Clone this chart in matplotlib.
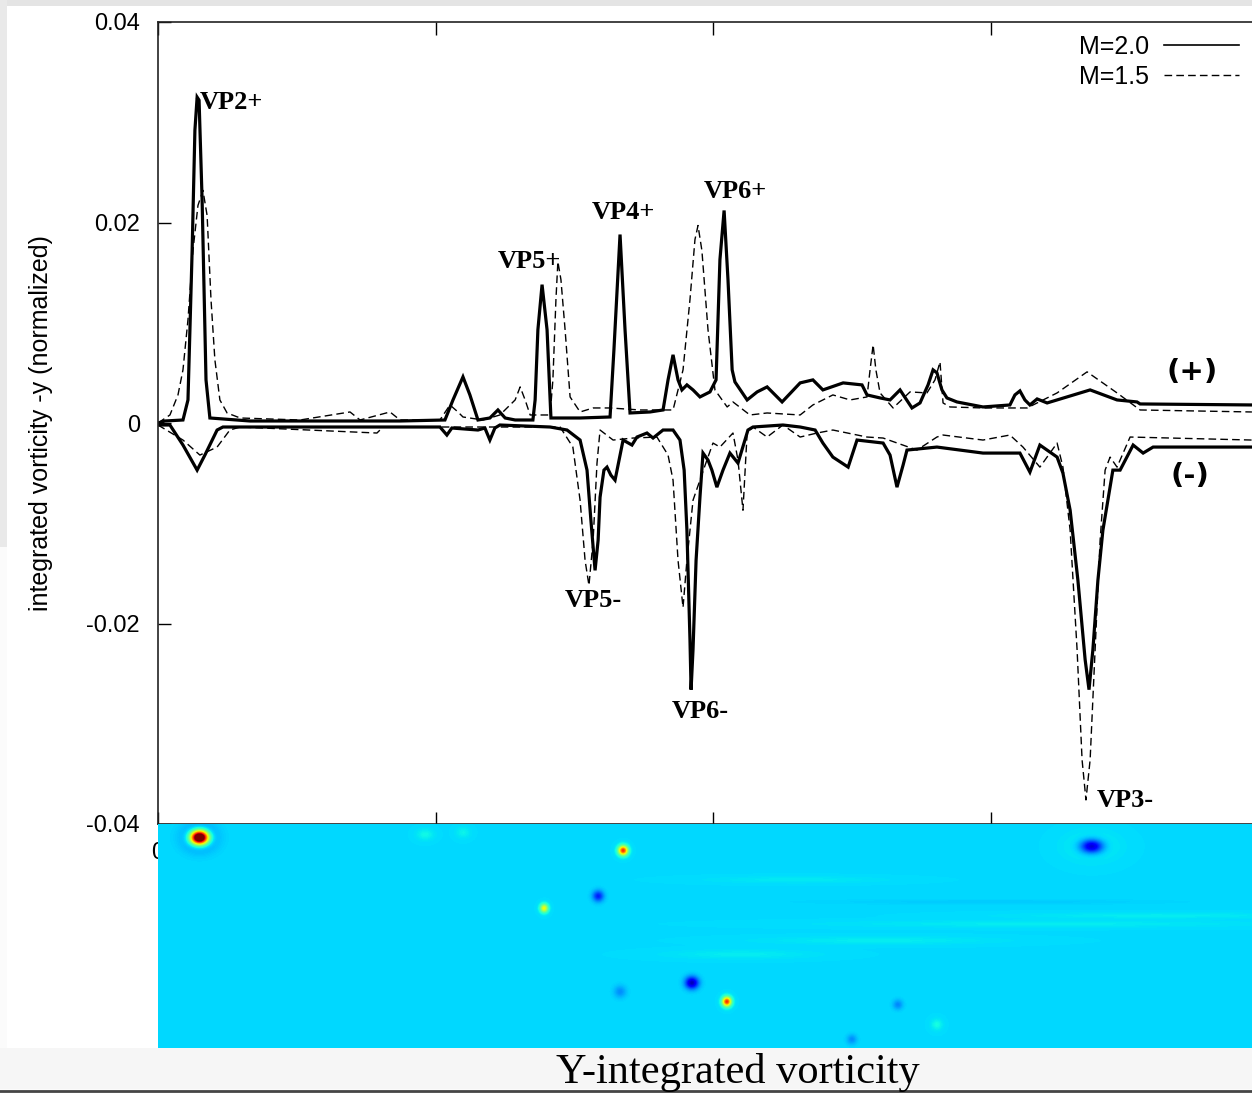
import numpy as np
import matplotlib.pyplot as plt
from matplotlib.patches import Rectangle
from matplotlib.lines import Line2D

# integrated vorticity profiles: (x, value) pairs along the channel
m20_pos = [(0.000, 0.0000), (0.025, 0.0002), (0.090, 0.0003), (0.108, 0.0023), (0.123, 0.0172),
           (0.133, 0.0292), (0.141, 0.0325), (0.148, 0.0322), (0.159, 0.0222), (0.173, 0.0043),
           (0.187, 0.0005), (0.332, 0.0002), (0.512, 0.0002), (0.872, 0.0002), (1.034, 0.0003),
           (1.063, 0.0023), (1.099, 0.0046), (1.124, 0.0028), (1.153, 0.0003), (1.196, 0.0005),
           (1.225, 0.0013), (1.251, 0.0005), (1.287, 0.0003), (1.351, 0.0003), (1.359, 0.0023),
           (1.369, 0.0093), (1.384, 0.0138), (1.402, 0.0093), (1.416, 0.0005), (1.438, 0.0005),
           (1.521, 0.0005), (1.629, 0.0006), (1.643, 0.0073), (1.665, 0.0188), (1.683, 0.0093),
           (1.701, 0.0010), (1.773, 0.0011), (1.820, 0.0013), (1.838, 0.0043), (1.856, 0.0068),
           (1.874, 0.0043), (1.888, 0.0033), (1.906, 0.0038), (1.928, 0.0033), (1.953, 0.0026),
           (1.989, 0.0031), (2.011, 0.0043), (2.025, 0.0163), (2.040, 0.0212), (2.054, 0.0143),
           (2.069, 0.0053), (2.079, 0.0041), (2.123, 0.0023), (2.159, 0.0031), (2.195, 0.0036),
           (2.231, 0.0026), (2.249, 0.0021), (2.314, 0.0040), (2.360, 0.0043), (2.396, 0.0033),
           (2.469, 0.0040), (2.537, 0.0038), (2.555, 0.0028), (2.602, 0.0025), (2.638, 0.0023),
           (2.674, 0.0033), (2.717, 0.0015), (2.746, 0.0020), (2.775, 0.0038), (2.793, 0.0053),
           (2.807, 0.0050), (2.825, 0.0033), (2.843, 0.0025), (2.879, 0.0021), (2.973, 0.0016),
           (3.070, 0.0018), (3.088, 0.0028), (3.106, 0.0032), (3.124, 0.0023), (3.142, 0.0018),
           (3.168, 0.0024), (3.204, 0.0020), (3.359, 0.0033), (3.456, 0.0023), (3.528, 0.0021),
           (3.539, 0.0019), (3.942, 0.0018)]

m20_neg = [(0.000, -0.0002), (0.043, -0.0002), (0.090, -0.0022), (0.141, -0.0047), (0.169, -0.0032),
           (0.213, -0.0007), (0.234, -0.0004), (0.512, -0.0004), (1.016, -0.0004), (1.041, -0.0012),
           (1.059, -0.0005), (1.153, -0.0007), (1.178, -0.0005), (1.196, -0.0017), (1.214, -0.0005),
           (1.232, -0.0002), (1.413, -0.0004), (1.474, -0.0007), (1.521, -0.0017), (1.546, -0.0047),
           (1.560, -0.0097), (1.575, -0.0147), (1.586, -0.0117), (1.593, -0.0074), (1.607, -0.0047),
           (1.618, -0.0044), (1.632, -0.0052), (1.647, -0.0057), (1.676, -0.0017), (1.708, -0.0022),
           (1.726, -0.0014), (1.762, -0.0010), (1.784, -0.0015), (1.820, -0.0007), (1.856, -0.0007),
           (1.881, -0.0017), (1.896, -0.0047), (1.906, -0.0107), (1.917, -0.0216), (1.921, -0.0266),
           (1.928, -0.0226), (1.939, -0.0137), (1.953, -0.0074), (1.964, -0.0030), (1.982, -0.0037),
           (1.996, -0.0047), (2.014, -0.0064), (2.036, -0.0047), (2.061, -0.0030), (2.090, -0.0040),
           (2.126, -0.0007), (2.144, -0.0004), (2.252, -0.0002), (2.314, -0.0004), (2.368, -0.0007),
           (2.396, -0.0020), (2.432, -0.0034), (2.487, -0.0044), (2.519, -0.0017), (2.613, -0.0020),
           (2.638, -0.0032), (2.663, -0.0064), (2.685, -0.0042), (2.699, -0.0027), (2.807, -0.0024),
           (2.973, -0.0030), (3.106, -0.0030), (3.142, -0.0049), (3.178, -0.0022), (3.240, -0.0034),
           (3.261, -0.0050), (3.287, -0.0087), (3.315, -0.0157), (3.341, -0.0236), (3.355, -0.0266),
           (3.369, -0.0226), (3.387, -0.0157), (3.405, -0.0107), (3.441, -0.0047), (3.467, -0.0047),
           (3.514, -0.0022), (3.550, -0.0030), (3.586, -0.0024), (3.942, -0.0024)]

m15_pos = [(0.000, 0.0000), (0.043, 0.0008), (0.072, 0.0028), (0.090, 0.0053), (0.108, 0.0103),
           (0.126, 0.0172), (0.144, 0.0217), (0.162, 0.0232), (0.177, 0.0207), (0.191, 0.0123),
           (0.205, 0.0063), (0.223, 0.0023), (0.249, 0.0010), (0.296, 0.0005), (0.512, 0.0003),
           (0.692, 0.0011), (0.728, 0.0003), (0.836, 0.0011), (0.872, 0.0003), (1.016, 0.0003),
           (1.052, 0.0018), (1.081, 0.0011), (1.099, 0.0006), (1.171, 0.0003), (1.232, 0.0008),
           (1.287, 0.0023), (1.305, 0.0036), (1.323, 0.0023), (1.341, 0.0008), (1.413, 0.0008),
           (1.423, 0.0043), (1.434, 0.0123), (1.441, 0.0161), (1.452, 0.0143), (1.467, 0.0093),
           (1.485, 0.0026), (1.521, 0.0011), (1.568, 0.0015), (1.629, 0.0015), (1.737, 0.0013),
           (1.856, 0.0013), (1.892, 0.0053), (1.917, 0.0123), (1.935, 0.0183), (1.946, 0.0197),
           (1.960, 0.0172), (1.982, 0.0093), (2.007, 0.0033), (2.051, 0.0016), (2.072, 0.0021),
           (2.133, 0.0008), (2.195, 0.0010), (2.314, 0.0008), (2.360, 0.0018), (2.432, 0.0028),
           (2.494, 0.0023), (2.555, 0.0026), (2.566, 0.0053), (2.577, 0.0078), (2.587, 0.0053),
           (2.602, 0.0030), (2.649, 0.0015), (2.710, 0.0031), (2.771, 0.0030), (2.800, 0.0043),
           (2.818, 0.0061), (2.829, 0.0020), (2.854, 0.0016), (2.973, 0.0015), (3.132, 0.0015),
           (3.240, 0.0030), (3.348, 0.0051), (3.456, 0.0030), (3.539, 0.0013), (3.942, 0.0011)]

m15_neg = [(0.000, -0.0002), (0.090, -0.0017), (0.151, -0.0032), (0.213, -0.0024), (0.259, -0.0007),
           (0.296, -0.0004), (0.789, -0.0010), (0.811, -0.0004), (1.232, -0.0004), (1.449, -0.0004),
           (1.495, -0.0024), (1.521, -0.0077), (1.539, -0.0137), (1.553, -0.0162), (1.568, -0.0117),
           (1.582, -0.0040), (1.593, -0.0007), (1.640, -0.0017), (1.712, -0.0015), (1.798, -0.0014),
           (1.838, -0.0032), (1.856, -0.0057), (1.874, -0.0137), (1.892, -0.0184), (1.906, -0.0137),
           (1.928, -0.0077), (1.953, -0.0057), (1.978, -0.0037), (2.000, -0.0020), (2.025, -0.0024),
           (2.072, -0.0010), (2.090, -0.0037), (2.108, -0.0087), (2.123, -0.0010), (2.144, -0.0004),
           (2.195, -0.0014), (2.252, -0.0002), (2.314, -0.0014), (2.375, -0.0010), (2.432, -0.0007),
           (2.555, -0.0014), (2.613, -0.0015), (2.735, -0.0027), (2.807, -0.0014), (2.829, -0.0012),
           (2.973, -0.0017), (3.070, -0.0012), (3.117, -0.0024), (3.178, -0.0044), (3.240, -0.0020),
           (3.261, -0.0044), (3.287, -0.0107), (3.312, -0.0226), (3.330, -0.0336), (3.344, -0.0376),
           (3.359, -0.0336), (3.377, -0.0226), (3.395, -0.0117), (3.413, -0.0047), (3.431, -0.0034),
           (3.456, -0.0044), (3.503, -0.0014), (3.942, -0.0017)]

# vortex patches in the snapshot: x, depth from top, strength, radius x / y
vort_x = [0.148, 0.148, 1.676, 1.391, 1.586, 1.924, 2.050, 3.366, 3.366, 1.665, 2.667, 2.501, 2.807, 0.962, 1.099]
vort_y = [0.047, 0.047, 0.094, 0.303, 0.259, 0.573, 0.641, 0.079, 0.079, 0.605, 0.652, 0.778, 0.724, 0.036, 0.029]
vort_s = [1.70, -0.25, 0.85, 0.50, -0.30, -0.47, 0.85, -0.47, 0.05, -0.12, -0.13, -0.12, 0.06, 0.05, 0.04]
vort_rx = [0.032, 0.055, 0.017, 0.014, 0.020, 0.024, 0.016, 0.040, 0.090, 0.022, 0.018, 0.018, 0.020, 0.030, 0.025]
vort_ry = [0.025, 0.045, 0.017, 0.015, 0.020, 0.022, 0.017, 0.024, 0.050, 0.022, 0.018, 0.018, 0.020, 0.020, 0.020]

# thin shear filaments trailing downstream
fil_x = [3.20, 3.00, 2.60, 3.60, 2.10, 2.30]
fil_y = [0.36, 0.28, 0.42, 0.33, 0.47, 0.20]
fil_s = [0.03, -0.025, 0.03, 0.03, 0.03, 0.025]
fil_rx = [0.70, 0.60, 0.40, 0.50, 0.25, 0.30]
fil_ry = [0.012, 0.010, 0.014, 0.011, 0.016, 0.012]

labels = [("VP2+", 0.151, 0.0320), ("VP5+", 1.225, 0.0161), ("VP4+", 1.564, 0.0210),
          ("VP6+", 1.968, 0.0231), ("VP5-", 1.467, -0.0177), ("VP6-", 1.852, -0.0288),
          ("VP3-", 3.384, -0.0377)]

W, H = 1252, 1093
fig = plt.figure(figsize=(W / 100, H / 100), dpi=100)
fig.patch.set_facecolor('#fbfbfb')
# slide background: grey band on top and upper left, light band under the snapshot
fig.add_artist(Rectangle((0, 1 - 6 / H), 1, 6 / H, transform=fig.transFigure,
                         facecolor='#e4e4e4', edgecolor='none', zorder=0))
fig.add_artist(Rectangle((0, 0.5), 7 / W, 0.5, transform=fig.transFigure,
                         facecolor='#e9e9e9', edgecolor='none', zorder=0))
fig.add_artist(Rectangle((7 / W, 45 / H), 1, 1 - 51 / H, transform=fig.transFigure,
                         facecolor='white', edgecolor='none', zorder=0))
fig.add_artist(Rectangle((0, 4 / H), 1, 41 / H, transform=fig.transFigure,
                         facecolor='#f6f6f6', edgecolor='none', zorder=0))
fig.add_artist(Line2D([0, 1], [2.5 / H, 2.5 / H], transform=fig.transFigure, color='#454545', lw=2))

ax = fig.add_axes([158 / W, 269 / H, 1110 / W, 802 / H])
ax.set_facecolor('white')

solid = dict(color='black', lw=2.3, solid_joinstyle='miter')
dashed = dict(color='black', lw=1.0, linestyle=(0, (5.5, 3)))
for series in (m20_pos, m20_neg):
    xs, ys = zip(*series)
    ax.plot(xs, ys, **solid)
for series in (m15_pos, m15_neg):
    xs, ys = zip(*series)
    ax.plot(xs, ys, **dashed)

ax.set_xlim(0, 4)
ax.set_ylim(-0.04, 0.04)
ax.set_xticks([0, 1, 2, 3])
ax.set_xticklabels(['0', '1', '2', '3'])
ax.set_yticks([-0.04, -0.02, 0, 0.02, 0.04])
ax.set_yticklabels(['-0.04', '-0.02', '0', '0.02', '0.04'])
ax.tick_params(direction='in', length=9, width=1.0, pad=13, labelsize=17,
               top=True, right=True, colors='black')
for lab in ax.get_xticklabels() + ax.get_yticklabels():
    lab.set_fontfamily('Liberation Sans')
for sp in ax.spines.values():
    sp.set_linewidth(1.2)
    sp.set_color('#222222')
ax.set_ylabel('integrated vorticity -y (normalized)', fontsize=18,
              family='Liberation Sans', labelpad=24)

for text, x, y in labels:
    ax.text(x, y, text, fontsize=19, fontweight='bold', family='Liberation Serif',
            ha='left', va='center')
ax.text(3.726, 0.0051, '(+)', fontsize=21, fontweight='bold', family='DejaVu Sans',
        ha='center', va='center')
ax.text(3.719, -0.0053, '(-)', fontsize=21, fontweight='bold', family='DejaVu Sans',
        ha='center', va='center')

handles = [Line2D([], [], **solid), Line2D([], [], **dashed)]
handles[0].set_linewidth(1.2)
leg = ax.legend(handles, ['M=2.0', 'M=1.5'], loc='upper right', frameon=False,
                bbox_to_anchor=(1239 / W, (H - 35) / H), bbox_transform=fig.transFigure,
                markerfirst=False, handlelength=3.0, handletextpad=0.6,
                labelspacing=0.22, borderpad=0, borderaxespad=0,
                prop={'family': 'Liberation Sans', 'size': 18})

# vorticity snapshot under the profile
img_ax = fig.add_axes([158 / W, 45 / H, 1110 / W, 224 / H])
gx = np.linspace(0, 4, 1110)
gy = np.linspace(0, 224 / 277.5, 224)
X, Y = np.meshgrid(gx, gy)
field = np.zeros_like(X)
for x0, y0, s, rx, ry in zip(vort_x + fil_x, vort_y + fil_y, vort_s + fil_s,
                             vort_rx + fil_rx, vort_ry + fil_ry):
    field += s * np.exp(-((X - x0) / rx) ** 2 - ((Y - y0) / ry) ** 2)
img_ax.imshow(field, cmap='jet', vmin=-0.55, vmax=1.07, aspect='auto',
              extent=[0, 4, gy[-1], 0], interpolation='bilinear')
img_ax.set_axis_off()

fig.text(738 / W, 10 / H, 'Y-integrated vorticity', fontsize=30.5, family='Liberation Serif',
         ha='center', va='baseline')

fig.savefig('out.png', dpi=100, facecolor=fig.get_facecolor())
